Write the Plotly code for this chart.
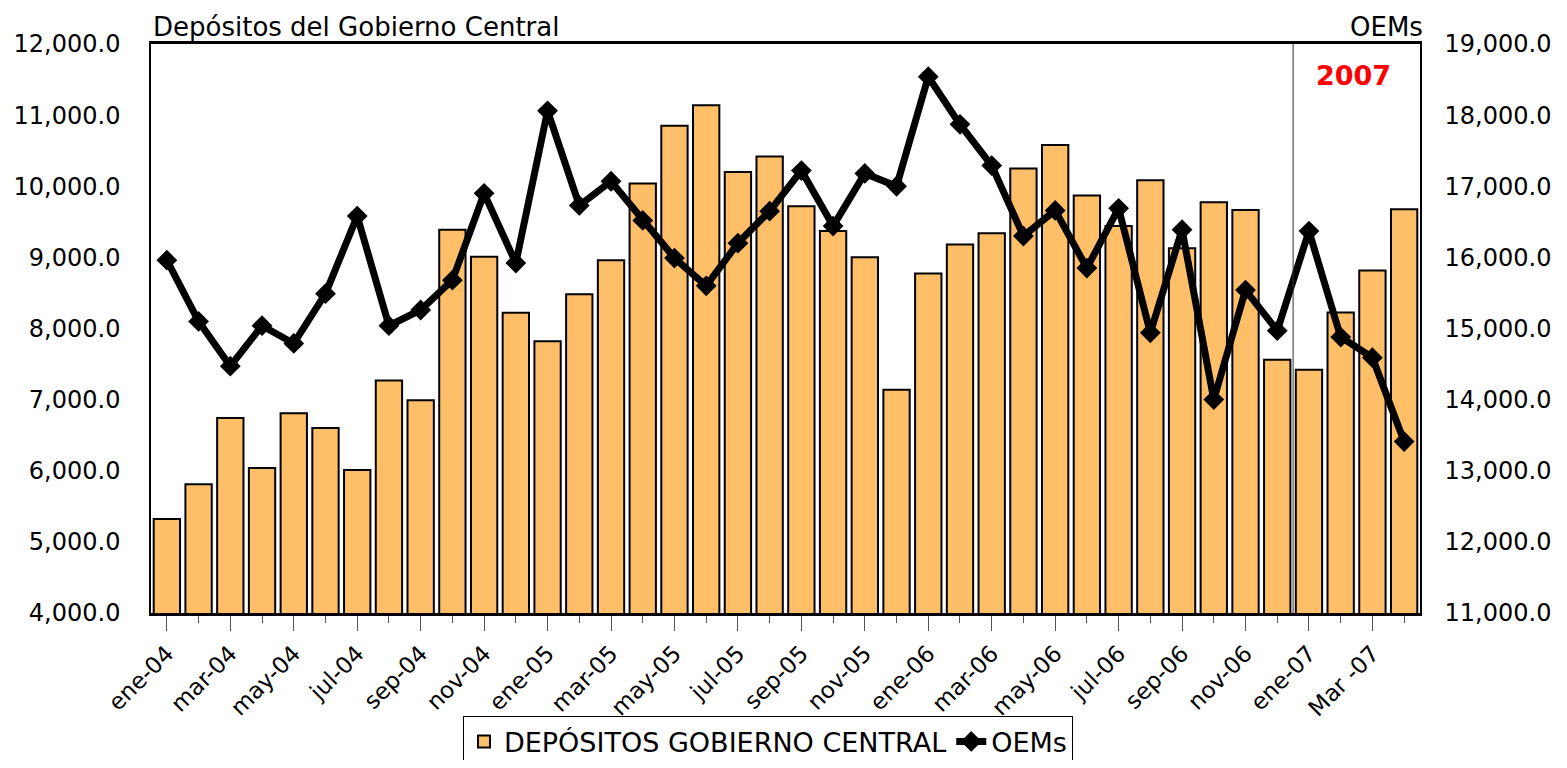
import plotly.graph_objects as go

meses = [
    "ene-04", "feb-04", "mar-04", "abr-04", "may-04", "jun-04",
    "jul-04", "ago-04", "sep-04", "oct-04", "nov-04", "dic-04",
    "ene-05", "feb-05", "mar-05", "abr-05", "may-05", "jun-05",
    "jul-05", "ago-05", "sep-05", "oct-05", "nov-05", "dic-05",
    "ene-06", "feb-06", "mar-06", "abr-06", "may-06", "jun-06",
    "jul-06", "ago-06", "sep-06", "oct-06", "nov-06", "dic-06",
    "ene-07", "feb-07", "Mar -07", "abr-07"
]

depositos = [
    5320, 5810, 6740, 6040, 6810, 6600, 6010, 7270, 6990, 9390, 9010, 8220,
    7820, 8480, 8960, 10040, 10850, 11140, 10200, 10420, 9720, 9370, 9000, 7140,
    8775, 9180, 9340, 10250, 10580, 9870, 9440, 10085, 9130, 9775, 9665, 7560,
    7420, 8225, 8815, 9675
]

oems = [
    15960, 15100, 14470, 15040, 14790, 15490, 16580, 15040, 15260, 15680, 16900, 15920,
    18060, 16730, 17070, 16520, 15990, 15600, 16200, 16650, 17220, 16440, 17180, 17000,
    18540, 17870, 17290, 16300, 16660, 15850, 16690, 14940, 16390, 14000, 15540, 14970,
    16370, 14880, 14590, 13410
]

FONT = "DejaVu Sans, Arial, sans-serif"
pos = list(range(len(meses)))

fig = go.Figure()

fig.add_trace(
    go.Bar(
        x=pos,
        y=depositos,
        name="DEPÓSITOS GOBIERNO CENTRAL",
        marker=dict(
            color="#FFBF69",
            line=dict(color="black", width=2)
        ),
        yaxis="y"
    )
)

fig.add_trace(
    go.Scatter(
        x=pos,
        y=oems,
        name="OEMs",
        mode="lines+markers",
        line=dict(color="black", width=7),
        marker=dict(symbol="diamond", size=16, color="black"),
        yaxis="y2"
    )
)

# linea divisoria 2007
fig.add_shape(
    type="line",
    x0=35.5, x1=35.5,
    y0=0, y1=1,
    xref="x", yref="paper",
    line=dict(color="#333333", width=1)
)

fig.add_annotation(
    x=37.4, y=0.976, xref="x", yref="paper",
    text="<b>2007</b>", showarrow=False,
    font=dict(family=FONT, size=27, color="#FF0000")
)

fig.add_annotation(
    x=0, y=1.0, xref="paper", yref="paper",
    xanchor="left", yanchor="bottom",
    text="Depósitos del Gobierno Central", showarrow=False,
    font=dict(family=FONT, size=26, color="black")
)

fig.add_annotation(
    x=1.004, y=1.0, xref="paper", yref="paper",
    xanchor="right", yanchor="bottom",
    text="OEMs", showarrow=False,
    font=dict(family=FONT, size=26, color="black")
)

# la pagina añade 8px de margen alrededor de la figura
fig.update_layout(
    width=1551,
    height=752,
    paper_bgcolor="white",
    plot_bgcolor="white",
    margin=dict(l=143, r=139, t=36, b=147),
    bargap=0.17,
    font=dict(family=FONT, color="black"),
    showlegend=True,
    legend=dict(
        orientation="h",
        xref="container", yref="container",
        x=0.49, y=0.058,
        xanchor="center", yanchor="top",
        bordercolor="black", borderwidth=1,
        font=dict(family=FONT, size=27),
        itemwidth=30,
        tracegroupgap=0
    ),
    xaxis=dict(
        range=[-0.5, len(meses) - 0.5],
        tickmode="array",
        tickvals=pos[::2],
        ticktext=meses[::2],
        tickangle=-45,
        ticks="outside",
        ticklen=15,
        tickcolor="#555555",
        tickfont=dict(family=FONT, size=23),
        minor=dict(
            tickmode="array",
            tickvals=pos[1::2],
            ticks="outside",
            ticklen=7,
            tickcolor="#555555"
        ),
        showline=True,
        linecolor="black",
        linewidth=3,
        mirror=True,
        showgrid=False,
        zeroline=False,
        automargin=False
    ),
    yaxis=dict(
        range=[4000, 12000],
        dtick=1000,
        tickformat=",.1f",
        tickfont=dict(family=FONT, size=24),
        ticks="",
        ticklabelstandoff=24,
        showline=True,
        linecolor="black",
        linewidth=1.5,
        showgrid=False,
        zeroline=False,
        automargin=False
    ),
    yaxis2=dict(
        range=[11000, 19000],
        dtick=1000,
        tickformat=",.1f",
        tickfont=dict(family=FONT, size=24),
        overlaying="y",
        side="right",
        ticks="",
        ticklabelstandoff=18,
        showline=True,
        linecolor="black",
        linewidth=1.5,
        showgrid=False,
        zeroline=False,
        automargin=False
    )
)

fig.write_html("out.html")
